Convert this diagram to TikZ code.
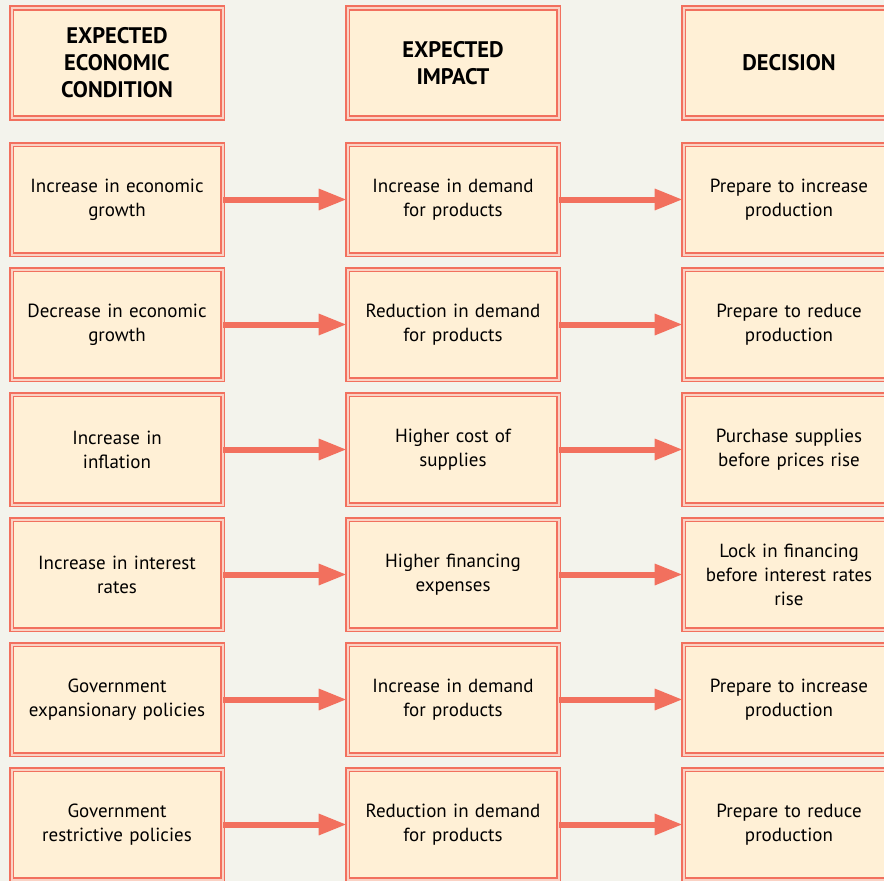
\documentclass[tikz,border=0pt]{standalone}
\usepackage{fontspec}
\setmainfont{PT Sans}
\usetikzlibrary{arrows.meta}
\definecolor{boxred}{HTML}{F2705E}
\definecolor{boxpink}{HTML}{FAD2C4}
\definecolor{boxfill}{HTML}{FFF0D6}
\definecolor{paper}{HTML}{F3F3EC}
\tikzset{
  cell/.style={draw=boxred, double=boxpink, line width=1.6pt, double distance=2pt,
    fill=boxfill, minimum width=211pt, minimum height=110pt, inner sep=0pt,
    text width=200pt, align=center, font=\fontsize{19}{24}\selectfont},
  head/.style={cell, font=\fontsize{22.5}{27}\selectfont\bfseries},
  link/.style={boxred, line width=6pt, -{Triangle[length=28pt,width=20pt]}}
}
\begin{document}
\begin{tikzpicture}[x=1pt, y=-1pt]
% Fondo
\fill[paper] (0,0) rectangle (884,881);
\useasboundingbox (0,0) rectangle (884,881);
\clip (0,0) rectangle (884,881);
% Encabezados
\node[head] (hc) at (117,63) {EXPECTED\\ECONOMIC\\CONDITION};
\node[head] (hi) at (453,63) {EXPECTED\\IMPACT};
\node[head] (hd) at (789,63) {DECISION};
% Filas
\foreach \n/\a/\b/\c in {
  1/{Increase in economic\\growth}/{Increase in demand\\for products}/{Prepare to increase\\production},
  2/{Decrease in economic\\growth}/{Reduction in demand\\for products}/{Prepare to reduce\\production},
  3/{Increase in\\inflation}/{Higher cost of\\supplies}/{Purchase supplies\\before prices rise},
  4/{Increase in interest\\rates}/{Higher financing\\expenses}/{Lock in financing\\before interest rates\\rise},
  5/{Government\\expansionary policies}/{Increase in demand\\for products}/{Prepare to increase\\production},
  6/{Government\\restrictive policies}/{Reduction in demand\\for products}/{Prepare to reduce\\production}} {
    \node[cell] (c\n) at (117,74.5+125*\n) {\a};
    \node[cell] (i\n) at (453,74.5+125*\n) {\b};
    \node[cell] (d\n) at (789,74.5+125*\n) {\c};
    \draw[link] (c\n) -- (i\n);
    \draw[link] (i\n) -- (d\n);
}
\end{tikzpicture}
\end{document}
